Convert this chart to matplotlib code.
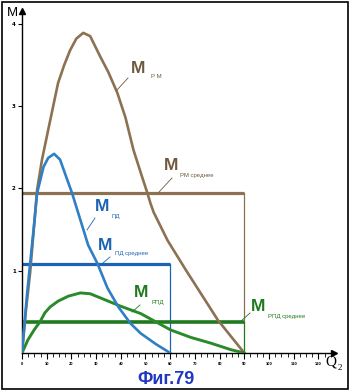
import matplotlib
matplotlib.use("Agg")
import matplotlib.pyplot as plt
from matplotlib.lines import Line2D
from matplotlib.patches import Rectangle

# ---- data (units: x = Q2 major ticks, y = M) ----
rm_x = [0, 0.16, 0.33, 0.61, 0.81, 1.06, 1.46, 1.71, 1.95, 2.20, 2.48, 2.76, 3.17, 3.50, 3.86, 4.19,
        4.51, 4.84, 5.08, 5.20, 5.33, 5.89, 6.63, 7.93, 9.0]
rm_y = [0, 0.52, 0.98, 1.98, 2.35, 2.71, 3.28, 3.50, 3.68, 3.82, 3.89, 3.85, 3.60, 3.41, 3.16, 2.86,
        2.47, 2.16, 1.94, 1.82, 1.71, 1.37, 1.01, 0.40, 0.0]

pd_x = [0, 0.08, 0.20, 0.33, 0.49, 0.61, 0.87, 1.06, 1.30, 1.54, 1.79, 2.03, 2.36, 2.68, 3.05, 3.46,
        3.90, 4.39, 4.80, 5.41, 6.0]
pd_y = [0, 0.28, 0.70, 1.09, 1.56, 1.94, 2.26, 2.37, 2.42, 2.35, 2.14, 1.94, 1.62, 1.31, 1.09, 0.79,
        0.56, 0.36, 0.24, 0.11, 0.0]

rpd_x = [0, 0.24, 0.49, 0.73, 0.93, 1.14, 1.46, 1.87, 2.36, 2.76, 3.17, 3.98, 4.80, 6.02, 6.83, 7.64,
         8.46, 9.0]
rpd_y = [0, 0.16, 0.28, 0.38, 0.49, 0.56, 0.63, 0.69, 0.73, 0.72, 0.67, 0.57, 0.48, 0.28, 0.19, 0.12,
         0.04, 0.0]

rm_mean, rm_end = 1.95, 9.0
pd_mean, pd_end = 1.08, 6.0
rpd_mean, rpd_end = 0.38, 9.0

y_ticks = [1, 2, 3, 4]
y_labels = ["1", "2", "3", "4"]
x_major = list(range(0, 13))
x_labels = ["0", "10", "20", "30", "40", "50", "60", "70", "80", "90", "100", "110", "120"]

BROWN = "#8c7152"
BROWN_T = "#6f5a3e"
BLUE = "#2f7fc4"
BLUE_H = "#1c63b3"
GREEN = "#2a8a2a"
GREEN_H = "#1f7a1f"

W, H = 351, 391
fig = plt.figure(figsize=(W / 100, H / 100), dpi=100)
fig.patch.set_facecolor("white")

X0, Y0 = 22, 353          # origin in px
SX, SY = 24.7, 82.3       # px per unit
right_px, top_px = 334, 11
ax = fig.add_axes([X0 / W, (H - Y0) / H, (right_px - X0) / W, (Y0 - top_px) / H])
ax.set_xlim(0, (right_px - X0) / SX)
ax.set_ylim(0, (Y0 - top_px) / SY)
ax.patch.set_alpha(0)
for s in ["top", "right"]:
    ax.spines[s].set_visible(False)
for s in ["left", "bottom"]:
    ax.spines[s].set_linewidth(1.0)
    ax.spines[s].set_color("black")

# ticks
ax.set_yticks(y_ticks)
ax.set_yticklabels(y_labels, fontsize=4, fontweight="bold")
ax.tick_params(axis="y", length=3, width=0.8, pad=1.5, direction="out")
ax.set_xticks(x_major)
ax.set_xticklabels(x_labels, fontsize=2.3, fontweight="bold")
ax.set_xticks([i * 0.25 for i in range(0, 51)], minor=True)
ax.tick_params(axis="x", which="major", length=4, width=0.8, pad=2.5, direction="out")
ax.tick_params(axis="x", which="minor", length=3, width=0.6, direction="out")

# axis arrows
ax.plot([0], [(Y0 - top_px) / SY], marker="^", color="black", markersize=5, clip_on=False)
ax.plot([(right_px - X0) / SX], [0], marker=">", color="black", markersize=4, clip_on=False)

# mean lines
ax.plot([0, rm_end], [rm_mean, rm_mean], color=BROWN, lw=2.3, solid_capstyle="butt", zorder=2)
ax.plot([rm_end, rm_end], [rm_mean, rpd_mean], color=BROWN, lw=0.9, zorder=2)
ax.plot([0, pd_end], [pd_mean, pd_mean], color=BLUE_H, lw=2.3, solid_capstyle="butt", zorder=2)
ax.plot([pd_end, pd_end], [pd_mean, 0], color=BLUE_H, lw=0.9, zorder=2)
ax.plot([0, rpd_end], [rpd_mean, rpd_mean], color=GREEN_H, lw=2.6, solid_capstyle="butt", zorder=2)
ax.plot([rpd_end, rpd_end], [rpd_mean, 0], color=GREEN_H, lw=0.9, zorder=2)

# curves
ax.plot(rm_x, rm_y, color=BROWN, lw=1.9, zorder=3, solid_joinstyle="round")
ax.plot(pd_x, pd_y, color=BLUE, lw=1.9, zorder=4, solid_joinstyle="round")
ax.plot(rpd_x, rpd_y, color=GREEN, lw=2.1, zorder=3, solid_joinstyle="round")


def ftxt(x, y, s, **kw):
    fig.text(x / W, 1 - y / H, s, **kw)


def fline(x1, y1, x2, y2, color):
    fig.add_artist(Line2D([x1 / W, x2 / W], [1 - y1 / H, 1 - y2 / H], color=color, lw=0.6))


big = dict(fontsize=12.5, fontweight="bold", family="Liberation Sans", ha="center", va="center")
sub = dict(fontsize=4.3, family="Liberation Sans", ha="left", va="center")

# labels
ftxt(138, 68.5, "M", color=BROWN_T, **big)
ftxt(151, 77, "Р М", color=BROWN_T, **sub)
fline(117, 90, 128, 78, BROWN_T)

ftxt(171.5, 165.5, "M", color=BROWN_T, **big)
ftxt(180, 175.5, "РМ среднее", color=BROWN_T, **sub)
fline(159, 192, 172, 178, BROWN_T)

ftxt(102, 206.5, "M", color=BLUE_H, **big)
ftxt(111, 216.5, "ПД", color=BLUE_H, **sub)
fline(87, 230, 95, 218, BLUE_H)

ftxt(105, 245, "M", color=BLUE_H, **big)
ftxt(115, 254, "ПД среднее", color=BLUE_H, **sub)
fline(103, 263, 110, 257, BLUE_H)

ftxt(141.5, 292.5, "M", color=GREEN_H, **big)
ftxt(152, 302.5, "РПД", color=GREEN_H, **sub)
fline(132, 312, 140, 305, GREEN_H)

ftxt(258.5, 306.5, "M", color=GREEN_H, **big)
ftxt(268, 316.5, "РПД среднее", color=GREEN_H, **sub)
fline(240, 322, 250, 313, GREEN_H)

# axis names
ftxt(12, 13, "M", fontsize=9.5, family="Liberation Sans", ha="center", va="center")
ftxt(331, 362, "Q", fontsize=11, family="Liberation Serif", ha="center", va="center")
ftxt(340, 368, "2", fontsize=6.5, family="Liberation Serif", ha="center", va="center")

# caption
ftxt(166, 379, "Фиг.79", fontsize=13, fontweight="bold", family="Liberation Sans",
     color="#2038c0", ha="center", va="center")

# border
fig.add_artist(Rectangle((2 / W, 2 / H), 346 / W, 387 / H, transform=fig.transFigure,
                         fill=False, edgecolor="black", lw=1.2))

fig.savefig("out.png", dpi=100)
